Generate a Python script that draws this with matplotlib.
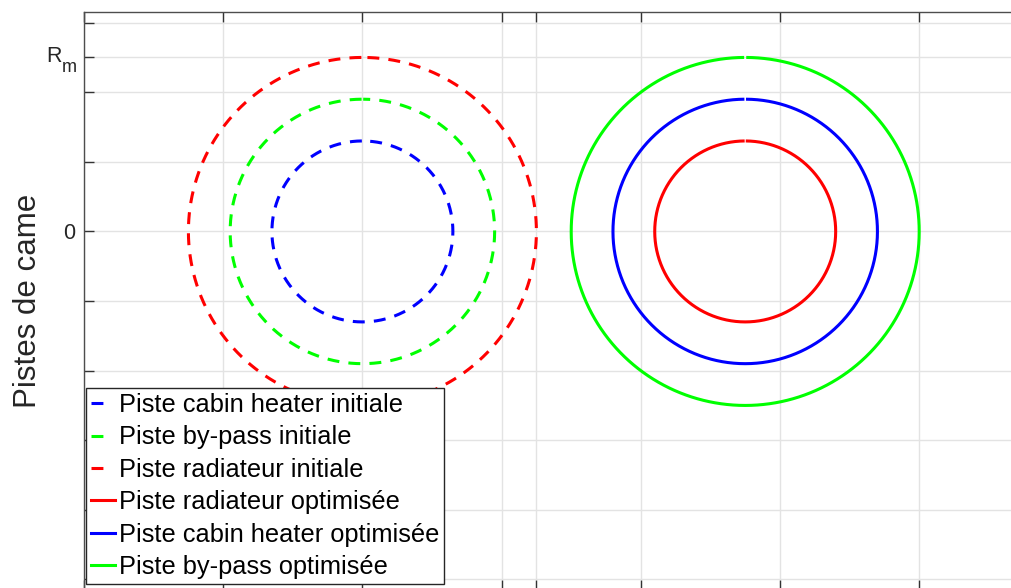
import numpy as np
import matplotlib

matplotlib.use("Agg")
import matplotlib.pyplot as plt
from matplotlib.lines import Line2D

plt.rcParams["font.family"] = ["Liberation Sans", "DejaVu Sans"]

# --- data (unit = R_m) ---
R_M = 1.0
center_initial = 0.0
center_optim = 2.2

labels = [
    "Piste cabin heater initiale",
    "Piste by-pass initiale",
    "Piste radiateur initiale",
    "Piste radiateur optimisée",
    "Piste cabin heater optimisée",
    "Piste by-pass optimisée",
]
radii = [0.52, 0.76, 1.0, 0.52, 0.76, 1.0]
centers = [center_initial] * 3 + [center_optim] * 3
colors = ["#0000ff", "#00ff00", "#ff0000", "#ff0000", "#0000ff", "#00ff00"]
dashed = [True, True, True, False, False, False]

xticks = [-1.6, -0.8, 0.0, 0.8, 1.0, 1.6, 2.4, 3.2]
yticks = [-2.0, -1.6, -1.2, -0.8, -0.4, 0.0, 0.4, 0.8, 1.0, 1.2]
ytick_labels = {0.0: "0"}

# --- figure: axes run past the right and bottom edge (cropped MATLAB figure) ---
W, H = 1012, 588
px_per_unit = 174.0
ax_left, ax_top, ax_right, ax_bottom = 84, 11.5, 1030, 590

fig = plt.figure(figsize=(W / 100, H / 100), dpi=100)
ax = fig.add_axes([ax_left / W, (H - ax_bottom) / H,
                   (ax_right - ax_left) / W, (ax_bottom - ax_top) / H])

x0 = -1.6
y_top = 1.264
ax.set_xlim(x0, x0 + (ax_right - ax_left) / px_per_unit)
ax.set_ylim(y_top - (ax_bottom - ax_top) / px_per_unit, y_top)

lw = 2.2
# start at the top with a tiny gap, like the original semicircle drawing
theta = np.linspace(np.pi / 2 + 0.006, np.pi / 2 + 2 * np.pi - 0.006, 721)
handles = []
for lab, r, cx, c, d in zip(labels, radii, centers, colors, dashed):
    kw = dict(dashes=(3.9, 3.0)) if d else {}
    ax.plot(cx + r * np.cos(theta), r * np.sin(theta), color=c, lw=lw,
            solid_capstyle="butt", zorder=3, **kw)
    hk = dict(dashes=(3.9, 12)) if d else {}
    handles.append(Line2D([], [], color=c, lw=lw, **hk))

ax.set_xticks(xticks)
ax.set_xticklabels([""] * len(xticks))
ax.set_yticks(yticks)
ax.set_yticklabels([ytick_labels.get(t, "") for t in yticks], fontsize=15.5)

# R_m tick label, drawn as R + large subscript m (MATLAB style)
ax.annotate("R", xy=(0, R_M), xycoords=("axes fraction", "data"), xytext=(-22, 1),
            textcoords="offset pixels", ha="right", va="center", fontsize=15.5,
            color="#262626", annotation_clip=False)
ax.annotate("m", xy=(0, R_M), xycoords=("axes fraction", "data"), xytext=(-22, -10),
            textcoords="offset pixels", ha="left", va="center", fontsize=13,
            color="#262626", annotation_clip=False)

ax.grid(True, color="#e3e3e3", linewidth=1.0)
ax.set_axisbelow(True)
spine_col = "#4d4d4d"
for s in ax.spines.values():
    s.set_color(spine_col)
    s.set_linewidth(1.0)
ax.tick_params(direction="in", length=7, width=1, color="#333333",
               top=True, right=True, pad=6, labelcolor="#262626")

ax.set_ylabel("Pistes de came", fontsize=22.5, color="#262626")
ax.yaxis.set_label_coords((43 - ax_left) / (ax_right - ax_left), 0.5)

leg = ax.legend(handles, labels, loc="upper left",
                bbox_to_anchor=(86 / W, 1 - 388 / H), bbox_transform=fig.transFigure,
                borderaxespad=0, fontsize=18.3, handlelength=0.96, handletextpad=0.12,
                labelspacing=0.33, borderpad=0.2, fancybox=False, framealpha=1,
                edgecolor="#262626")
leg.get_frame().set_linewidth(1.0)
leg.set_zorder(5)

fig.savefig("out.png", dpi=100)
